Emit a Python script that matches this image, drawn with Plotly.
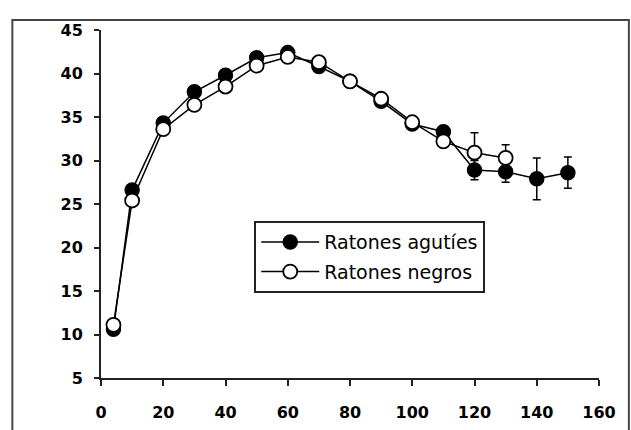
import plotly.graph_objects as go

# Data
x_aguti = [4, 10, 20, 30, 40, 50, 60, 70, 80, 90, 100, 110, 120, 130, 140, 150]
y_aguti = [10.6, 26.6, 34.3, 37.9, 39.8, 41.8, 42.4, 40.8, 39.1, 36.8, 34.2, 33.3, 28.9, 28.7, 27.9, 28.6]
err_aguti = [0.4, 0.5, 0.5, 0.5, 0.5, 0.5, 0.5, 0.5, 0.5, 0.5, 0.5, 0.6, 1.1, 1.2, 2.4, 1.8]

x_negro = [4, 10, 20, 30, 40, 50, 60, 70, 80, 90, 100, 110, 120, 130]
y_negro = [11.1, 25.4, 33.6, 36.4, 38.5, 40.9, 41.9, 41.3, 39.1, 37.1, 34.4, 32.2, 30.9, 30.3]
err_negro = [0.4, 0.5, 0.5, 0.5, 0.5, 0.5, 0.5, 0.5, 0.5, 0.5, 0.5, 0.6, 2.3, 1.5]

names = ["Ratones agutíes", "Ratones negros"]
x_ticks = [0, 20, 40, 60, 80, 100, 120, 140, 160]
y_ticks = [5, 10, 15, 20, 25, 30, 35, 40, 45]

fig = go.Figure()
fig.add_trace(go.Scatter(
    x=x_aguti, y=y_aguti, name=names[0], mode="lines+markers",
    legendgroup="a",
    line=dict(color="black", width=1.5),
    marker=dict(symbol="circle", size=14, color="black", line=dict(color="black", width=1.5)),
    error_y=dict(type="data", array=err_aguti, visible=True, color="black", thickness=1.5, width=4),
))
fig.add_trace(go.Scatter(
    x=x_negro, y=y_negro, name=names[1], mode="lines+markers",
    legendgroup="b",
    line=dict(color="black", width=1.5),
    marker=dict(symbol="circle", size=14, color="white", line=dict(color="black", width=1.8)),
    error_y=dict(type="data", array=err_negro, visible=True, color="black", thickness=1.5, width=4),
))

tickfont = dict(family="DejaVu Sans", size=16, color="black", weight="bold")

fig.update_layout(
    width=631, height=430,
    margin=dict(l=101, r=32, t=30, b=52, pad=0),
    paper_bgcolor="white", plot_bgcolor="white",
    showlegend=True,
    legend=dict(
        x=0.3077, y=0.451, xanchor="left", yanchor="top",
        bgcolor="white", bordercolor="#222", borderwidth=2,
        font=dict(family="DejaVu Sans", size=19, color="black"),
        tracegroupgap=2, itemwidth=58,
    ),
    xaxis=dict(
        range=[0, 160], tickvals=x_ticks, showgrid=False, zeroline=False,
        showline=True, linecolor="#222", linewidth=2, automargin=False,
        ticks="outside", ticklen=6, tickwidth=2, tickcolor="#222",
        tickfont=tickfont, ticklabelstandoff=13,
    ),
    yaxis=dict(
        range=[5, 45], tickvals=y_ticks, showgrid=False, zeroline=False,
        showline=True, linecolor="#222", linewidth=2, automargin=False,
        ticks="outside", ticklen=5, tickwidth=2, tickcolor="#222",
        tickfont=tickfont, ticklabelstandoff=8,
    ),
    shapes=[dict(
        type="rect", xref="paper", yref="paper",
        x0=-0.178, x1=1.060, y0=-0.2, y1=1.0285,
        line=dict(color="#444", width=2), fillcolor="rgba(0,0,0,0)", layer="below",
    )],
)

fig.write_html("out.html")
